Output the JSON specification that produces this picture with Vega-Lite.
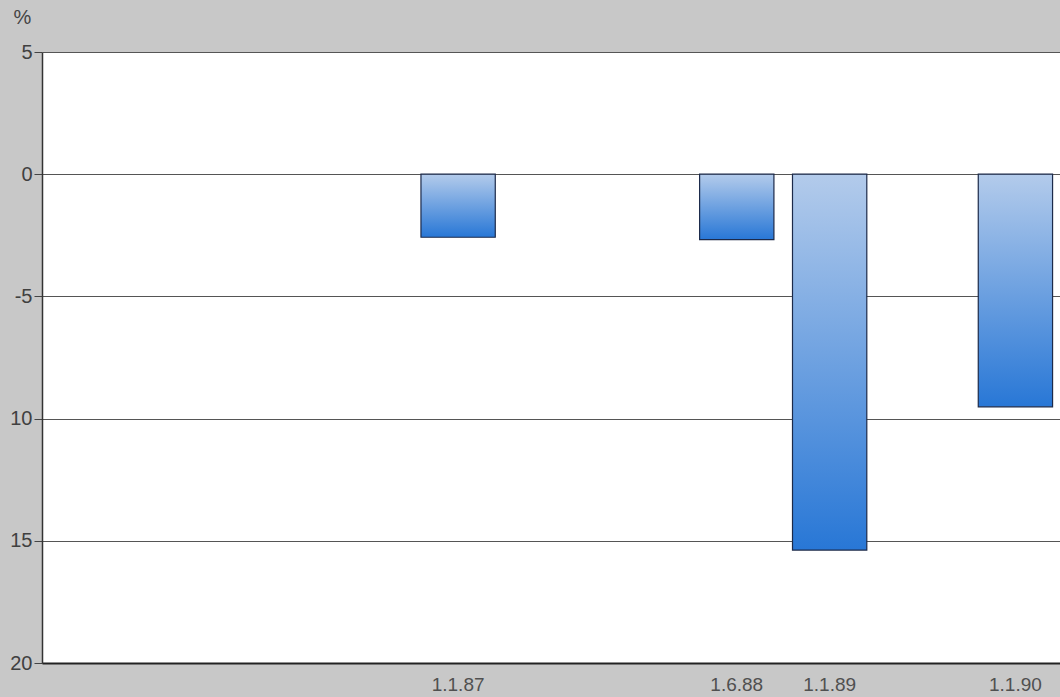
{
  "$schema": "https://vega.github.io/schema/vega-lite/v6.json",
  "width": 1018,
  "height": 611,
  "autosize": {"type": "none"},
  "padding": {"left": 42, "top": 52, "right": 0, "bottom": 34},
  "background": "#c8c8c8",
  "config": {
    "view": {"fill": "white", "stroke": null},
    "font": "Liberation Sans"
  },
  "data": {
    "values": [
      {"date": "1.1.87", "value": -2.58},
      {"date": "1.6.88", "value": -2.68},
      {"date": "1.1.89", "value": -15.38},
      {"date": "1.1.90", "value": -9.52}
    ]
  },
  "mark": {
    "type": "bar",
    "stroke": "#1c2a4a",
    "strokeWidth": 1.2,
    "fill": {
      "gradient": "linear",
      "x1": 0, "y1": 0, "x2": 0, "y2": 1,
      "stops": [
        {"offset": 0, "color": "#b3cbeb"},
        {"offset": 1, "color": "#2877d6"}
      ]
    }
  },
  "encoding": {
    "x": {
      "field": "date",
      "type": "nominal",
      "sort": null,
      "scale": {
        "domain": ["a", "b", "c", "d", "1.1.87", "e", "f", "1.6.88", "1.1.89", "g", "1.1.90"],
        "paddingInner": 0.2,
        "paddingOuter": 0.08
      },
      "axis": {
        "title": null,
        "labelAngle": 0,
        "labelExpr": "indexof(datum.label, '.') >= 0 ? datum.label : ''",
        "ticks": false,
        "labelPadding": 12,
        "labelFontSize": 19,
        "labelColor": "#505050",
        "domainColor": "#222222",
        "domainWidth": 2,
        "grid": false
      }
    },
    "y": {
      "field": "value",
      "type": "quantitative",
      "scale": {"domain": [-20, 5], "nice": false, "zero": false},
      "axis": {
        "values": [5, 0, -5, -10, -15, -20],
        "labelExpr": "datum.value === -5 ? '-5' : '' + abs(datum.value)",
        "title": "%",
        "titleAngle": 0,
        "titleX": -20,
        "titleY": -25,
        "titleAlign": "center",
        "titleFontSize": 20,
        "titleFontWeight": "normal",
        "titleColor": "#444444",
        "labelFontSize": 20,
        "labelColor": "#404040",
        "labelPadding": 2,
        "tickSize": 8,
        "tickColor": "#444444",
        "domainColor": "#333333",
        "domainWidth": 1.5,
        "grid": true,
        "gridColor": "#555555",
        "gridWidth": 1,
        "gridOpacity": 1
      }
    }
  }
}
